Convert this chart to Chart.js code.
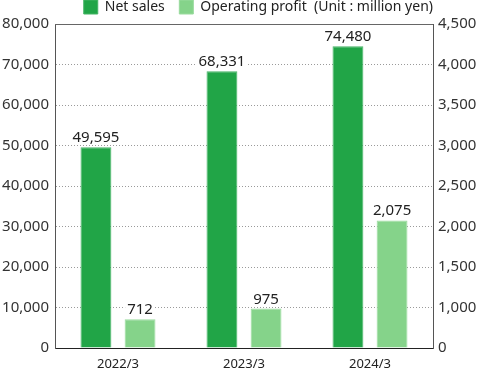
<!DOCTYPE html>
<html>
<head>
<meta charset="utf-8">
<script src="https://cdn.jsdelivr.net/npm/chart.js@4/dist/chart.umd.min.js"></script>
<style>
  html, body { margin: 0; padding: 0; background: #fff; }
  #wrap { width: 477px; height: 369px; }
</style>
</head>
<body>
<div id="wrap"><canvas id="salesChart" width="477" height="369"></canvas></div>
<script>
const years = ["2022/3", "2023/3", "2024/3"];
const netSales = [49595, 68331, 74480];
const operatingProfit = [712, 975, 2075];
const leftTicks = [0, 10000, 20000, 30000, 40000, 50000, 60000, 70000, 80000];
// the right axis in the original skips 500: first step is 1,000, then 500 per step
const rightTicks = [0, 1000, 1500, 2000, 2500, 3000, 3500, 4000, 4500];

const FONT = "'Noto Sans', sans-serif";
const fmt = v => v.toLocaleString("en-US");

// linear scale whose ticks are spread evenly, one gridline step each
class StepScale extends Chart.LinearScale {
  getPixelForValue(value) {
    const t = this.options.stepTicks;
    let u = 0;
    if (value >= t[t.length - 1]) u = t.length - 1;
    else {
      for (let i = 1; i < t.length; i++) {
        if (value <= t[i]) { u = i - 1 + (value - t[i - 1]) / (t[i] - t[i - 1]); break; }
      }
    }
    return this.getPixelForDecimal(u / (t.length - 1));
  }
}
StepScale.id = "stepLinear";
StepScale.defaults = Chart.LinearScale.defaults;
Chart.register(StepScale);

// value labels above each bar (white behind, so gridlines stop) + solid frame on top
const barLabels = {
  id: "barLabels",
  afterDatasetsDraw(chart) {
    const ctx = chart.ctx;
    ctx.save();
    ctx.font = "15px " + FONT;
    ctx.textAlign = "center";
    ctx.textBaseline = "alphabetic";
    chart.data.datasets.forEach((ds, i) => {
      chart.getDatasetMeta(i).data.forEach((bar, j) => {
        const txt = fmt(ds.data[j]);
        const w = ctx.measureText(txt).width;
        ctx.fillStyle = "#fff";
        ctx.fillRect(bar.x - w / 2 - 2, bar.y - 18, w + 4, 14);
        ctx.fillStyle = "#222";
        ctx.fillText(txt, bar.x, bar.y - 5);
      });
    });
    const a = chart.chartArea;
    ctx.strokeStyle = "#666";
    ctx.lineWidth = 1;
    ctx.beginPath();
    ctx.moveTo(a.left, a.top + 0.5);
    ctx.lineTo(a.right, a.top + 0.5);
    ctx.stroke();
    ctx.restore();
  }
};

new Chart(document.getElementById("salesChart").getContext("2d"), {
  type: "bar",
  data: {
    labels: years,
    datasets: [
      {
        label: "Net sales    ",
        data: netSales,
        backgroundColor: "#21a547",
        borderColor: "#45b465",
        borderWidth: 1,
        yAxisID: "y"
      },
      {
        label: "Operating profit  (Unit : million yen)",
        data: operatingProfit,
        backgroundColor: "#85d38a",
        borderColor: "#9adb9e",
        borderWidth: 1,
        yAxisID: "y1"
      }
    ]
  },
  options: {
    responsive: false,
    animation: false,
    barPercentage: 0.7,
    categoryPercentage: 0.7,
    plugins: {
      legend: {
        position: "top",
        align: "end",
        fullSize: false,
        labels: {
          boxWidth: 14,
          boxHeight: 14,
          padding: 0,
          color: "#222",
          font: { family: FONT, size: 14 }
        }
      },
      tooltip: { enabled: false }
    },
    scales: {
      x: {
        afterFit: s => { s.height = 21; },
        grid: { display: false, drawTicks: false },
        border: { color: "#222", width: 1 },
        ticks: { color: "#222", padding: 8, font: { family: FONT, size: 13 } }
      },
      y: {
        position: "left",
        min: 0,
        max: 80000,
        afterBuildTicks: s => { s.ticks = leftTicks.map(v => ({ value: v })); },
        afterFit: s => { s.width = 55; },
        grid: {
          drawTicks: false,
          color: c => (c.tick.value === 0 || c.tick.value === 80000) ? "rgba(0,0,0,0)" : "#9a9a9a",
          lineWidth: 1
        },
        border: { color: "#555", width: 1, dash: [1, 2] },
        ticks: {
          color: "#333",
          padding: 6,
          font: { family: FONT, size: 15 },
          callback: v => fmt(v)
        }
      },
      y1: {
        type: "stepLinear",
        stepTicks: rightTicks,
        position: "right",
        min: 0,
        max: 4500,
        afterBuildTicks: s => { s.ticks = rightTicks.map(v => ({ value: v })); },
        afterFit: s => { s.width = 44; },
        grid: { drawOnChartArea: false, drawTicks: false },
        border: { color: "#555", width: 1 },
        ticks: {
          color: "#333",
          padding: 5,
          font: { family: FONT, size: 15 },
          callback: v => fmt(v)
        }
      }
    }
  },
  plugins: [barLabels]
});
</script>
</body>
</html>
